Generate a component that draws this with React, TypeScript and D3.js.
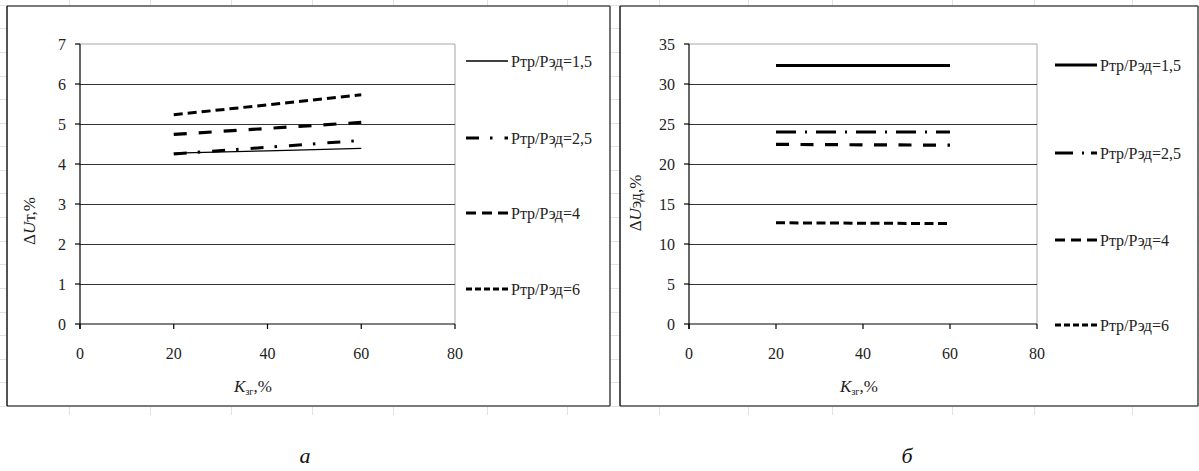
import React from 'react';
import * as d3 from 'd3';

// Load factor K_зг, %
const kzg = [20, 40, 60];
const xTicks = [0, 20, 40, 60, 80];

// Power ratio series names
const ratioNames = ['Ртр/Рэд=1,5', 'Ртр/Рэд=2,5', 'Ртр/Рэд=4', 'Ртр/Рэд=6'];

// ΔUт, % (transformer voltage drop)
const dUt15 = [4.27, 4.33, 4.39];
const dUt25 = [4.25, 4.42, 4.59];
const dUt4 = [4.74, 4.89, 5.04];
const dUt6 = [5.23, 5.48, 5.73];
const yTicksT = [0, 1, 2, 3, 4, 5, 6, 7];

// ΔUэд, % (motor voltage drop)
const dUed15 = [32.3, 32.3, 32.3];
const dUed25 = [24.0, 24.0, 24.0];
const dUed4 = [22.45, 22.4, 22.35];
const dUed6 = [12.65, 12.6, 12.55];
const yTicksEd = [0, 5, 10, 15, 20, 25, 30, 35];

// Spreadsheet cell grid behind the charts
const sheetCols = [69, 150, 231, 312, 393, 487, 567, 659, 748, 832, 952, 1034, 1132];
const sheetRowTop = 4.7;
const sheetRowStep = 23.6;

const FONT = "'Liberation Serif', 'Times New Roman', 'DejaVu Serif', serif";
const txt = (size: number, extra: React.CSSProperties = {}): React.CSSProperties => ({
  fontFamily: FONT,
  fontSize: size,
  ...extra,
});

type Style = { width: number; dash?: string };

type PanelProps = {
  frame: { x0: number; x1: number; y0: number; y1: number };
  plot: { x0: number; x1: number; y0: number; y1: number };
  yMax: number;
  yTicks: number[];
  series: number[][];
  styles: Style[];
  legendStyles: Style[];
  legendY: number[];
  legendX: number;
  titleParts: string[];
  yTitlePos: [number, number];
  xTitlePos: [number, number];
};

function Panel(p: PanelProps) {
  const x = d3.scaleLinear().domain([0, 80]).range([p.plot.x0, p.plot.x1]);
  const y = d3.scaleLinear().domain([0, p.yMax]).range([p.plot.y1, p.plot.y0]);
  const line = d3
    .line<number>()
    .x((_, i) => x(kzg[i]))
    .y((d) => y(d));
  const { frame, plot } = p;
  return (
    <g>
      <rect x={frame.x0} y={frame.y0} width={frame.x1 - frame.x0} height={frame.y1 - frame.y0} fill="#fff" />
      <line x1={frame.x0} x2={frame.x1} y1={frame.y0} y2={frame.y0} stroke="#7a7a7a" strokeWidth={2} />
      <line x1={frame.x0} x2={frame.x1} y1={frame.y1} y2={frame.y1} stroke="#7a7a7a" strokeWidth={2} />
      <line x1={frame.x0} x2={frame.x0} y1={frame.y0} y2={frame.y1} stroke="#1a1a1a" strokeWidth={1.5} />
      <line x1={frame.x1} x2={frame.x1} y1={frame.y0} y2={frame.y1} stroke="#444" strokeWidth={1.5} />

      {/* plot area border (top / right) */}
      <line x1={plot.x0} x2={plot.x1} y1={y(p.yMax)} y2={y(p.yMax)} stroke="#a8a8a8" strokeWidth={1.2} />
      <line x1={plot.x1} x2={plot.x1} y1={plot.y0} y2={plot.y1} stroke="#b4b4b4" strokeWidth={1.2} />

      {/* horizontal gridlines */}
      {p.yTicks.filter((t) => t > 0 && t < p.yMax).map((t) => (
        <line key={t} x1={plot.x0} x2={plot.x1} y1={Math.round(y(t)) + 0.5} y2={Math.round(y(t)) + 0.5} stroke="#333" strokeWidth={1} />
      ))}

      {/* axes */}
      <line x1={plot.x0} x2={plot.x0} y1={plot.y0} y2={plot.y1 + 5} stroke="#000" strokeWidth={1.2} />
      <line x1={plot.x0} x2={plot.x1} y1={plot.y1} y2={plot.y1} stroke="#000" strokeWidth={1.2} />
      {p.yTicks.map((t) => (
        <g key={t}>
          <line x1={plot.x0 - 5} x2={plot.x0} y1={y(t)} y2={y(t)} stroke="#000" strokeWidth={1.2} />
          <text x={plot.x0 - 14} y={y(t) + 5.5} textAnchor="end" style={txt(16)} fill="#222">
            {t}
          </text>
        </g>
      ))}
      {xTicks.map((t) => (
        <g key={t}>
          <line x1={x(t)} x2={x(t)} y1={plot.y1} y2={plot.y1 + 5} stroke="#000" strokeWidth={1.2} />
          <text x={x(t)} y={plot.y1 + 35} textAnchor="middle" style={txt(16)} fill="#222">
            {t}
          </text>
        </g>
      ))}

      {/* data series */}
      {p.series.map((s, i) => (
        <path key={i} d={line(s) || ''} fill="none" stroke="#000" strokeWidth={p.styles[i].width} strokeDasharray={p.styles[i].dash} />
      ))}

      {/* legend */}
      {ratioNames.map((name, i) => (
        <g key={name}>
          <line
            x1={p.legendX}
            x2={p.legendX + 42}
            y1={p.legendY[i]}
            y2={p.legendY[i]}
            stroke="#000"
            strokeWidth={p.legendStyles[i].width}
            strokeDasharray={p.legendStyles[i].dash}
          />
          <text x={p.legendX + 45} y={p.legendY[i] + 5.5} style={txt(16)} fill="#222">
            {name}
          </text>
        </g>
      ))}

      {/* axis titles */}
      <text
        transform={`translate(${p.yTitlePos[0]},${p.yTitlePos[1]}) rotate(-90)`}
        textAnchor="middle"
        dominantBaseline="middle"
        style={txt(17)}
        fill="#222"
      >
        <tspan>Δ</tspan>
        <tspan style={{ fontStyle: 'italic' }}>U</tspan>
        <tspan>{p.titleParts[0]}</tspan>
      </text>
      <text x={p.xTitlePos[0]} y={p.xTitlePos[1]} textAnchor="middle" style={txt(17)} fill="#222">
        <tspan style={{ fontStyle: 'italic' }}>K</tspan>
        <tspan style={{ fontSize: 10 }} dy={3}>зг</tspan>
        <tspan dy={-3}>,%</tspan>
      </text>
    </g>
  );
}

export default function App() {
  const rows: number[] = [];
  for (let r = sheetRowTop; r < 412; r += sheetRowStep) rows.push(r);
  return (
    <svg width={1199} height={471} style={{ position: 'absolute', left: 0, top: 0, background: '#fff' }}>
      {/* spreadsheet cells */}
      {sheetCols.map((c) => (
        <line key={'c' + c} x1={c + 0.5} x2={c + 0.5} y1={0} y2={415} stroke="#dde2ec" strokeWidth={1} />
      ))}
      {rows.map((r) => (
        <line key={'r' + r} x1={0} x2={1199} y1={Math.round(r) + 0.5} y2={Math.round(r) + 0.5} stroke="#dde2ec" strokeWidth={1} />
      ))}

      <Panel
        frame={{ x0: 7, x1: 610, y0: 6, y1: 406 }}
        plot={{ x0: 80, x1: 455, y0: 44, y1: 324 }}
        yMax={7}
        yTicks={yTicksT}
        series={[dUt15, dUt25, dUt4, dUt6]}
        styles={[
          { width: 1.3 },
          { width: 3, dash: '13,11,2.5,12' },
          { width: 3.2, dash: '13,12' },
          { width: 3, dash: '9,5' },
        ]}
        legendStyles={[
          { width: 1.6 },
          { width: 3, dash: '13,11,2.5,12' },
          { width: 3, dash: '10,6' },
          { width: 3, dash: '6,3' },
        ]}
        legendY={[61, 138, 213, 289]}
        legendX={466}
        titleParts={['т,%']}
        yTitlePos={[31, 221]}
        xTitlePos={[253, 392]}
      />
      <Panel
        frame={{ x0: 620, x1: 1198, y0: 6, y1: 406 }}
        plot={{ x0: 689, x1: 1037, y0: 44, y1: 324 }}
        yMax={35}
        yTicks={yTicksEd}
        series={[dUed15, dUed25, dUed4, dUed6]}
        styles={[
          { width: 3 },
          { width: 3, dash: '20,9,2,9' },
          { width: 3.2, dash: '13,11.5' },
          { width: 3, dash: '9,4.5' },
        ]}
        legendStyles={[
          { width: 3 },
          { width: 3, dash: '18,9,2,7' },
          { width: 3, dash: '10,6' },
          { width: 3, dash: '6,3' },
        ]}
        legendY={[65, 153, 240, 325]}
        legendX={1055}
        titleParts={['эд,%']}
        yTitlePos={[637, 203]}
        xTitlePos={[859, 392]}
      />

      {/* sub-figure captions */}
      <text x={305} y={463} textAnchor="middle" style={txt(22, { fontStyle: 'italic' })} fill="#111">а</text>
      <text x={907} y={463} textAnchor="middle" style={txt(22, { fontStyle: 'italic' })} fill="#111">б</text>
    </svg>
  );
}
